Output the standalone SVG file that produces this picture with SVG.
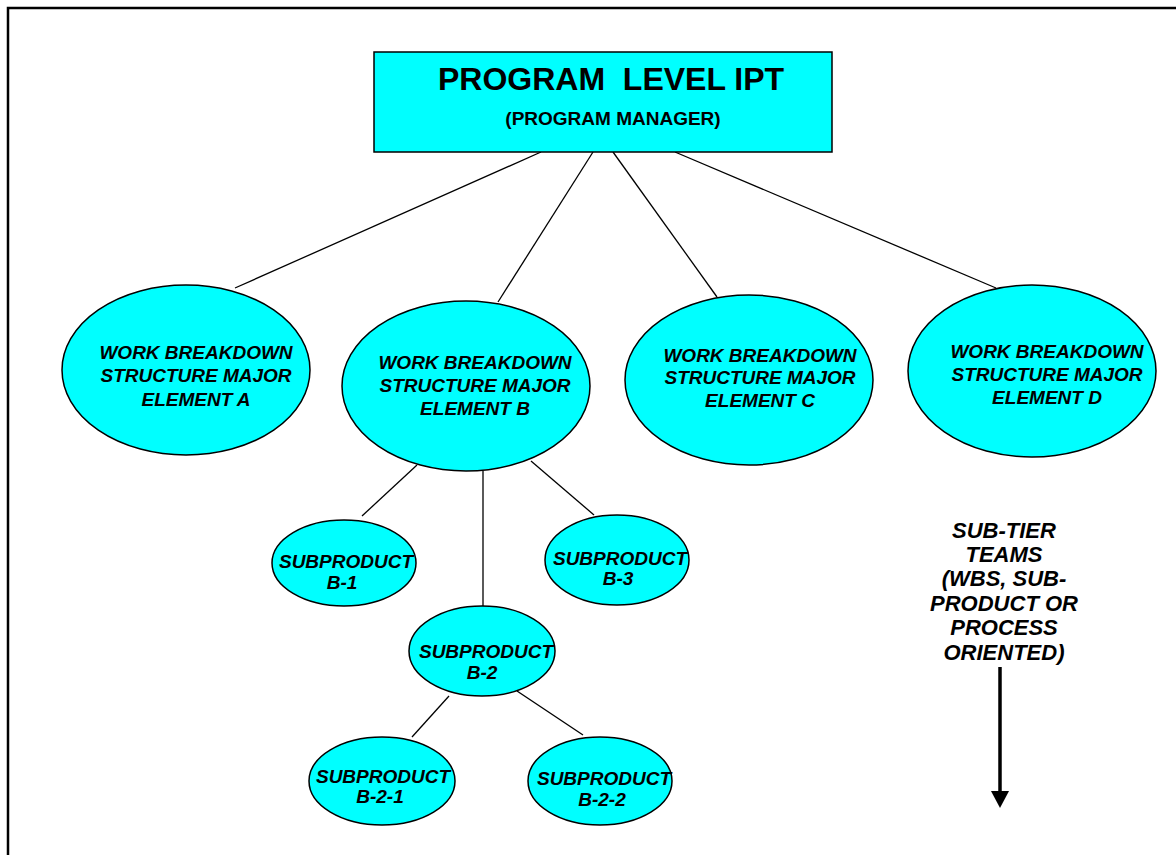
<svg xmlns="http://www.w3.org/2000/svg" width="1176" height="855" viewBox="0 0 1176 855">
  <style>
    .node { fill: #00FFFF; stroke: #000; stroke-width: 1.5; }
    .conn { stroke: #000; stroke-width: 1.3; fill: none; }
    .lbl { font-family: "Liberation Sans", Arial, sans-serif; font-weight: bold; font-style: italic; fill: #000; text-anchor: middle; }
    .wbs { font-size: 19px; }
    .sub { font-size: 19px; }
    .title { font-family: "Liberation Sans", Arial, sans-serif; font-weight: bold; fill: #000; text-anchor: middle; white-space: pre; }
  </style>

  <rect width="1176" height="855" fill="#fff"/>
  <!-- frame -->
  <path d="M8,855 L8,8 L1176,8" fill="none" stroke="#000" stroke-width="2.5"/>

  <!-- connectors -->
  <g id="connectors">
    <line class="conn" x1="541" y1="152" x2="235" y2="288"/>
    <line class="conn" x1="593" y1="152" x2="498" y2="302"/>
    <line class="conn" x1="613" y1="152" x2="717" y2="297"/>
    <line class="conn" x1="675" y1="152" x2="996" y2="288"/>
    <line class="conn" x1="417" y1="465" x2="362" y2="516"/>
    <line class="conn" x1="483" y1="471" x2="483" y2="607"/>
    <line class="conn" x1="531" y1="461" x2="594" y2="515"/>
    <line class="conn" x1="449" y1="696" x2="412" y2="737"/>
    <line class="conn" x1="517" y1="691" x2="583" y2="735"/>
    <line x1="1000" y1="667" x2="1000" y2="792" stroke="#000" stroke-width="3.5"/>
    <path d="M991,791 L1009,791 L1000,808 z" fill="#000"/>
  </g>

  <g id="program-level-ipt">
    <rect class="node" x="374" y="52" width="458" height="100"/>
    <text class="title" x="611" y="90" font-size="32" xml:space="preserve">PROGRAM  LEVEL IPT</text>
    <text class="title" x="613" y="125" font-size="19">(PROGRAM MANAGER)</text>
  </g>

  <g id="wbs-a">
    <ellipse class="node" cx="186" cy="370" rx="124" ry="85"/>
    <text class="lbl wbs"><tspan x="196" y="359">WORK BREAKDOWN</tspan><tspan x="196" y="382">STRUCTURE MAJOR</tspan><tspan x="196" y="406">ELEMENT A</tspan></text>
  </g>

  <g id="wbs-b">
    <ellipse class="node" cx="466" cy="386" rx="124" ry="85"/>
    <text class="lbl wbs"><tspan x="475" y="369">WORK BREAKDOWN</tspan><tspan x="475" y="392">STRUCTURE MAJOR</tspan><tspan x="475" y="415">ELEMENT B</tspan></text>
  </g>

  <g id="wbs-c">
    <ellipse class="node" cx="749" cy="380" rx="124" ry="85"/>
    <text class="lbl wbs"><tspan x="760" y="362">WORK BREAKDOWN</tspan><tspan x="760" y="384">STRUCTURE MAJOR</tspan><tspan x="760" y="407">ELEMENT C</tspan></text>
  </g>

  <g id="wbs-d">
    <ellipse class="node" cx="1032" cy="371" rx="124" ry="86"/>
    <text class="lbl wbs"><tspan x="1047" y="358">WORK BREAKDOWN</tspan><tspan x="1047" y="381">STRUCTURE MAJOR</tspan><tspan x="1047" y="404">ELEMENT D</tspan></text>
  </g>

  <g id="sub-b1">
    <ellipse class="node" cx="344" cy="563" rx="72" ry="43"/>
    <text class="lbl sub"><tspan x="346" y="568">SUBPRODUCT</tspan><tspan x="342" y="589">B-1</tspan></text>
  </g>

  <g id="sub-b3">
    <ellipse class="node" cx="617" cy="560" rx="72" ry="45"/>
    <text class="lbl sub"><tspan x="620" y="565">SUBPRODUCT</tspan><tspan x="618" y="585">B-3</tspan></text>
  </g>

  <g id="sub-b2">
    <ellipse class="node" cx="482" cy="651" rx="73" ry="45"/>
    <text class="lbl sub"><tspan x="486" y="658">SUBPRODUCT</tspan><tspan x="482" y="679">B-2</tspan></text>
  </g>

  <g id="sub-b21">
    <ellipse class="node" cx="382" cy="781" rx="73" ry="44"/>
    <text class="lbl sub"><tspan x="383" y="783">SUBPRODUCT</tspan><tspan x="380" y="803">B-2-1</tspan></text>
  </g>

  <g id="sub-b22">
    <ellipse class="node" cx="600" cy="781" rx="72" ry="44"/>
    <text class="lbl sub"><tspan x="604" y="785">SUBPRODUCT</tspan><tspan x="602" y="806">B-2-2</tspan></text>
  </g>

  <g id="sub-tier-teams">
    <text class="lbl" font-size="22"><tspan x="1004" y="538">SUB-TIER</tspan><tspan x="1004" y="562">TEAMS</tspan><tspan x="1004" y="586">(WBS, SUB-</tspan><tspan x="1004" y="611">PRODUCT OR</tspan><tspan x="1004" y="635">PROCESS</tspan><tspan x="1004" y="660">ORIENTED)</tspan></text>
  </g>
</svg>
